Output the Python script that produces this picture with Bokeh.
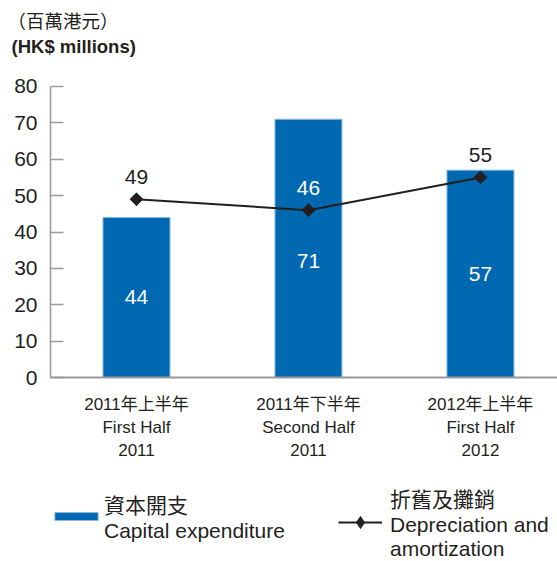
import math
from bokeh.plotting import figure
from bokeh.models import Range1d, FixedTicker, Legend, LegendItem, ColumnDataSource, Label, LinearAxis
from bokeh.embed import file_html
from bokeh.resources import INLINE
from bokeh.core.properties import value

# ---- data ----
categories = ["2011年上半年\nFirst Half\n2011",
              "2011年下半年\nSecond Half\n2011",
              "2012年上半年\nFirst Half\n2012"]
capex = [44, 71, 57]
dep_amort = [49, 46, 55]
capex_labels = ["44", "71", "57"]
dep_labels = ["49", "46", "55"]
y_ticks = [0, 10, 20, 30, 40, 50, 60, 70, 80]
title_zh = "（百萬港元）"
title_en = "(HK$ millions)"
legend_capex = "資本開支\nCapital expenditure"
legend_dep = "折舊及攤銷\nDepreciation and\namortization"

FONT = "Liberation Sans, Noto Sans CJK TC, sans-serif"
TXT = "#231f20"
BLUE = "#0067b1"
GRAY = "#9a9a9a"

W, H = 557, 561
xs = [i + 0.5 for i in range(len(categories))]

# frame covers the whole canvas; axes are pinned at x=0 / y=0
p = figure(width=W, height=H, x_range=Range1d(-0.2907, 2.948), y_range=Range1d(-50.58, 103.64),
           output_backend="svg", toolbar_location=None,
           x_axis_location=None, y_axis_location=None,
           min_border_left=0, min_border_right=0, min_border_top=0, min_border_bottom=0)
p.outline_line_color = None
p.xgrid.visible = False
p.ygrid.visible = False

# bars
src = ColumnDataSource(dict(x=xs, top=capex, lab=capex_labels,
                            ly=[v * f for v, f in zip(capex, [0.5, 0.45, 0.5])]))
br = p.vbar(x="x", top="top", width=67 / 172, source=src, fill_color=BLUE,
            line_color="#8cb8e0", line_width=1)
p.text(x="x", y="ly", text="lab", source=src, text_color="white",
       text_font=value(FONT), text_font_size="21px", text_align="center",
       text_baseline="middle")

# line
dsrc = ColumnDataSource(dict(x=xs, y=dep_amort, lab=dep_labels,
                             col=["white" if d + 6 < c else TXT for d, c in zip(dep_amort, capex)]))
lr = p.line(x="x", y="y", source=dsrc, line_color=TXT, line_width=2)
dr = p.scatter(x="x", y="y", source=dsrc, marker="diamond", size=12,
               fill_color=TXT, line_color=TXT)
sr = p.scatter(x="x", y="y", source=dsrc, marker="square", angle=math.pi / 4,
               size=9, fill_color=TXT, line_color=TXT)
p.text(x="x", y="y", text="lab", source=dsrc, text_color="col",
       text_font=value(FONT), text_font_size="21px", text_align="center",
       text_baseline="alphabetic", y_offset=-22)

# y axis at x = 0
ya = LinearAxis(fixed_location=0)
ya.ticker = FixedTicker(ticks=y_ticks)
ya.bounds = (0, 80)
ya.axis_line_color = GRAY
ya.axis_line_width = 1.5
ya.major_tick_line_color = GRAY
ya.major_tick_line_width = 1.5
ya.major_tick_in = 13
ya.major_tick_out = 0
ya.minor_tick_line_color = None
ya.major_label_standoff = 13
ya.major_label_text_font = FONT
ya.major_label_text_font_size = "21px"
ya.major_label_text_color = TXT
p.add_layout(ya, "left")

# x axis at y = 0
xa = LinearAxis(fixed_location=0)
xa.ticker = FixedTicker(ticks=xs)
xa.bounds = (0, 2.948)
xa.major_label_overrides = {x: c for x, c in zip(xs, categories)}
xa.axis_line_color = GRAY
xa.axis_line_width = 2
xa.major_tick_line_color = None
xa.major_tick_in = 0
xa.major_tick_out = 0
xa.minor_tick_line_color = None
xa.major_label_standoff = 17
xa.major_label_text_font = FONT
xa.major_label_text_font_size = "17px"
xa.major_label_text_color = TXT
xa.major_label_text_line_height = 1.22
p.add_layout(xa, "below")

# titles (screen units from the frame's bottom-left = canvas bottom-left)
p.add_layout(Label(x=7, y=H - 20.5, x_units="screen", y_units="screen", text=title_zh,
                   text_font=FONT, text_font_size="18.5px", text_color=TXT,
                   text_baseline="middle"))
p.add_layout(Label(x=11, y=H - 46, x_units="screen", y_units="screen", text=title_en,
                   text_font=FONT, text_font_size="18.5px", text_font_style="bold",
                   text_color=TXT, text_baseline="middle"))

# legends
common = dict(orientation="horizontal", padding=0, margin=0, border_line_color=None,
              background_fill_alpha=0, label_text_font=FONT, label_text_font_size="21px",
              label_text_color=TXT)
leg1 = Legend(items=[LegendItem(label=legend_capex, renderers=[br])],
              location=(49, 18), glyph_width=54, glyph_height=10, label_standoff=1,
              label_text_line_height=1.3, **common)
leg2 = Legend(items=[LegendItem(label=legend_dep, renderers=[lr, dr])],
              location=(338, 0), glyph_width=44, glyph_height=30, label_standoff=8,
              label_text_line_height=1.16, **common)
p.add_layout(leg1, "center")
p.add_layout(leg2, "center")

open("out.html", "w").write(file_html(p, INLINE))
